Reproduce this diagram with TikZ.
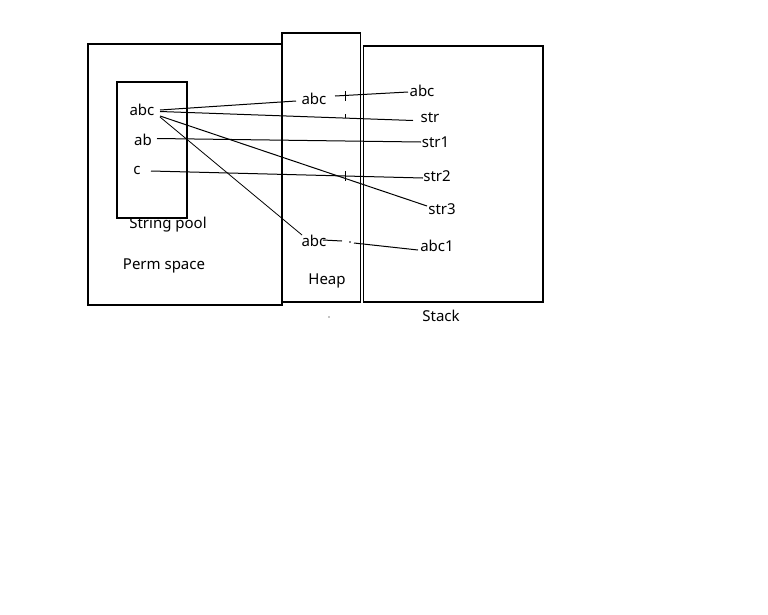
\documentclass[tikz,border=0pt]{standalone}
\usepackage{fontspec}
\setmainfont{Noto Sans}
\begin{document}
\begin{tikzpicture}[x=1pt,y=-1pt,
  box/.style={draw=black,line width=1.2pt},
  lbl/.style={font=\fontsize{15}{18}\selectfont,inner sep=0pt,anchor=center},
  link/.style={draw=black,line width=1pt}]
\useasboundingbox[fill=white] (0,0) rectangle (768,614);
% boxes
\draw[box] (88,44) rectangle (282,305);
\draw[box] (282,33) rectangle (360.5,302);
\draw[box] (363.5,46) rectangle (543,302);
\draw[box] (117,82) rectangle (187,218);
% labels
\node[lbl] (pabc) at (142,110) {abc};
\node[lbl] (pab) at (143,140) {ab};
\node[lbl] (pc) at (137,170) {c};
\node[lbl] (spool) at (168,224.5) {String pool};
\node[lbl] (perm) at (164,266) {Perm space};
\node[lbl] (habc) at (314,99) {abc};
\node[lbl] (habc2) at (314,241) {abc};
\node[lbl] (heap) at (327,281) {Heap};
\node[lbl] (sabc) at (422,91) {abc};
\node[lbl] (sstr) at (430,118) {str};
\node[lbl] (sstr1) at (435.5,142) {str1};
\node[lbl] (sstr2) at (437,176) {str2};
\node[lbl] (sstr3) at (442,209) {str3};
\node[lbl] (sabc1) at (437,246) {abc1};
\node[lbl] (stack) at (441,316) {Stack};
% connector end points
\coordinate (a1) at (160,110);
\coordinate (a2) at (160,111.5);
\coordinate (a3) at (160,116);
\coordinate (a4) at (160,117);
\coordinate (habcL) at (296,101);
\coordinate (habcR) at (335,96);
\coordinate (sabcL) at (408,92);
\coordinate (sstrL) at (413,120.5);
\coordinate (ab1) at (157,138.5);
\coordinate (sstr1L) at (421,142);
\coordinate (c1) at (151,171);
\coordinate (sstr2L) at (423,178);
\coordinate (sstr3L) at (427,206);
\coordinate (habc2T) at (302,235);
\coordinate (h2a) at (323,240);
\coordinate (h2b) at (342,241);
\coordinate (h2c) at (354,243);
\coordinate (sabc1L) at (418,250);
% connectors
\draw[link] (a1) -- (habcL);
\draw[link] (a2) -- (sstrL);
\draw[link] (a3) -- (sstr3L);
\draw[link,line width=0.8pt] (a4) -- (habc2T);
\draw[link] (ab1) -- (sstr1L);
\draw[link] (c1) -- (sstr2L);
\draw[link] (habcR) -- (sabcL);
\draw[link] (h2a) -- (h2b);
\draw[link] (h2c) -- (sabc1L);
\fill (350,242) circle (0.8);
\fill (329,317) circle (0.6);
% small ticks
\draw[link,line width=0.8pt] (345,91) -- (345,101);
\draw[link,line width=0.8pt] (345,114) -- (345,118);
\draw[link,line width=0.8pt] (345,171) -- (345,181);
\end{tikzpicture}
\end{document}
